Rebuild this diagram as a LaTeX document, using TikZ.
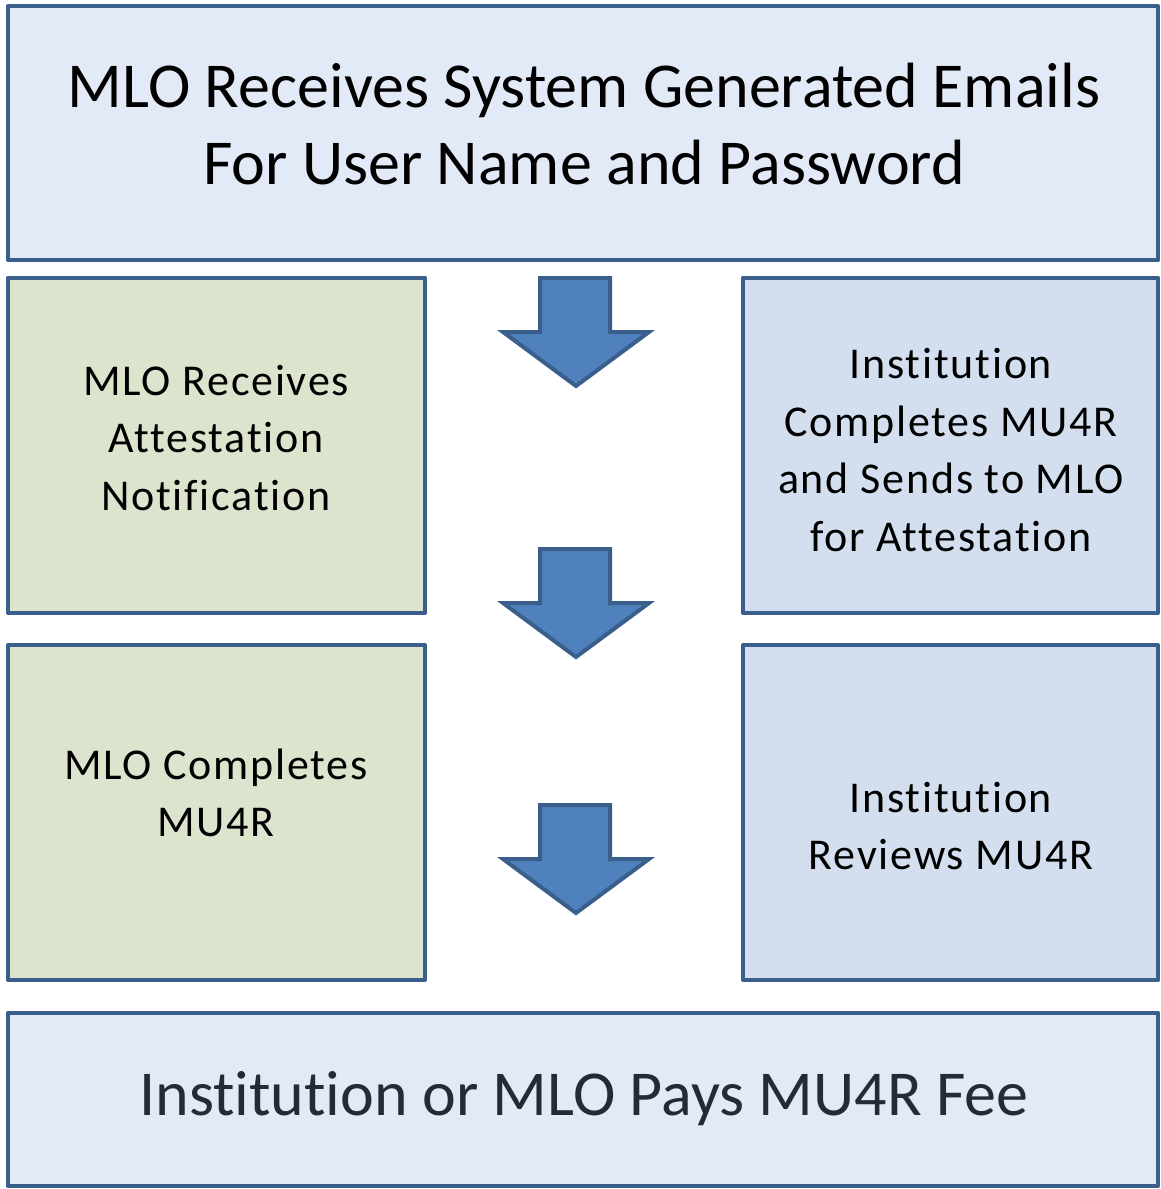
\documentclass[tikz,border=0pt]{standalone}
\usepackage{fontspec}
\setmainfont{Carlito}[Ligatures=NoCommon]
\newfontfamily\midfont{Carlito}[Ligatures=NoCommon,LetterSpace=4]
\definecolor{bordc}{HTML}{3A5F8C}
\definecolor{topfill}{HTML}{E3EAF7}
\definecolor{greenfill}{HTML}{DCE4CE}
\definecolor{bluefill}{HTML}{D3DFEE}
\definecolor{arrowfill}{HTML}{4F81BD}
\definecolor{bottxt}{HTML}{222B38}
\tikzset{
  boxbase/.style={draw=bordc, line width=4pt, line join=round},
  bigtxt/.style={align=center, font=\fontsize{64}{77}\selectfont, inner sep=0pt},
  midtxt/.style={align=center, font=\midfont\fontsize{44}{57.5}\selectfont, inner sep=0pt},
  blockarrow/.style={draw=bordc, fill=arrowfill, line width=4pt, line join=miter}
}
\begin{document}
\begin{tikzpicture}[x=1pt,y=-1pt]
\useasboundingbox (0,0) rectangle (1160,1189);
% boxes
\draw[boxbase, fill=topfill] (8,6) rectangle (1158,260);
\draw[boxbase, fill=greenfill] (8,277.5) rectangle (425,613);
\draw[boxbase, fill=bluefill] (743,277.5) rectangle (1158,613);
\draw[boxbase, fill=greenfill] (8,645) rectangle (425,980);
\draw[boxbase, fill=bluefill] (743,645) rectangle (1158,980);
\draw[boxbase, fill=topfill] (8,1012.5) rectangle (1158,1186);
% texts
\node[bigtxt] (t1) at (584,124) {MLO Receives System Generated Emails\\For User Name and Password};
\node[midtxt] (l1) at (216,438) {MLO Receives\\Attestation\\Notification};
\node[midtxt] (r1) at (951,450) {Institution\\Completes MU4R\\and Sends to MLO\\for Attestation};
\node[midtxt] (l2) at (216,793) {MLO Completes\\MU4R};
\node[midtxt] (r2) at (951,826) {Institution\\Reviews MU4R};
\node[bigtxt, text=bottxt] (b1) at (584,1099) {Institution or MLO Pays MU4R Fee};
% block arrows
\foreach \T in {278,549,805}{
  \draw[blockarrow] (540,\T) -- (610,\T) -- (610,\T+54) -- (649,\T+54) -- (576,\T+108) -- (503,\T+54) -- (540,\T+54) -- cycle;
}
\end{tikzpicture}
\end{document}
